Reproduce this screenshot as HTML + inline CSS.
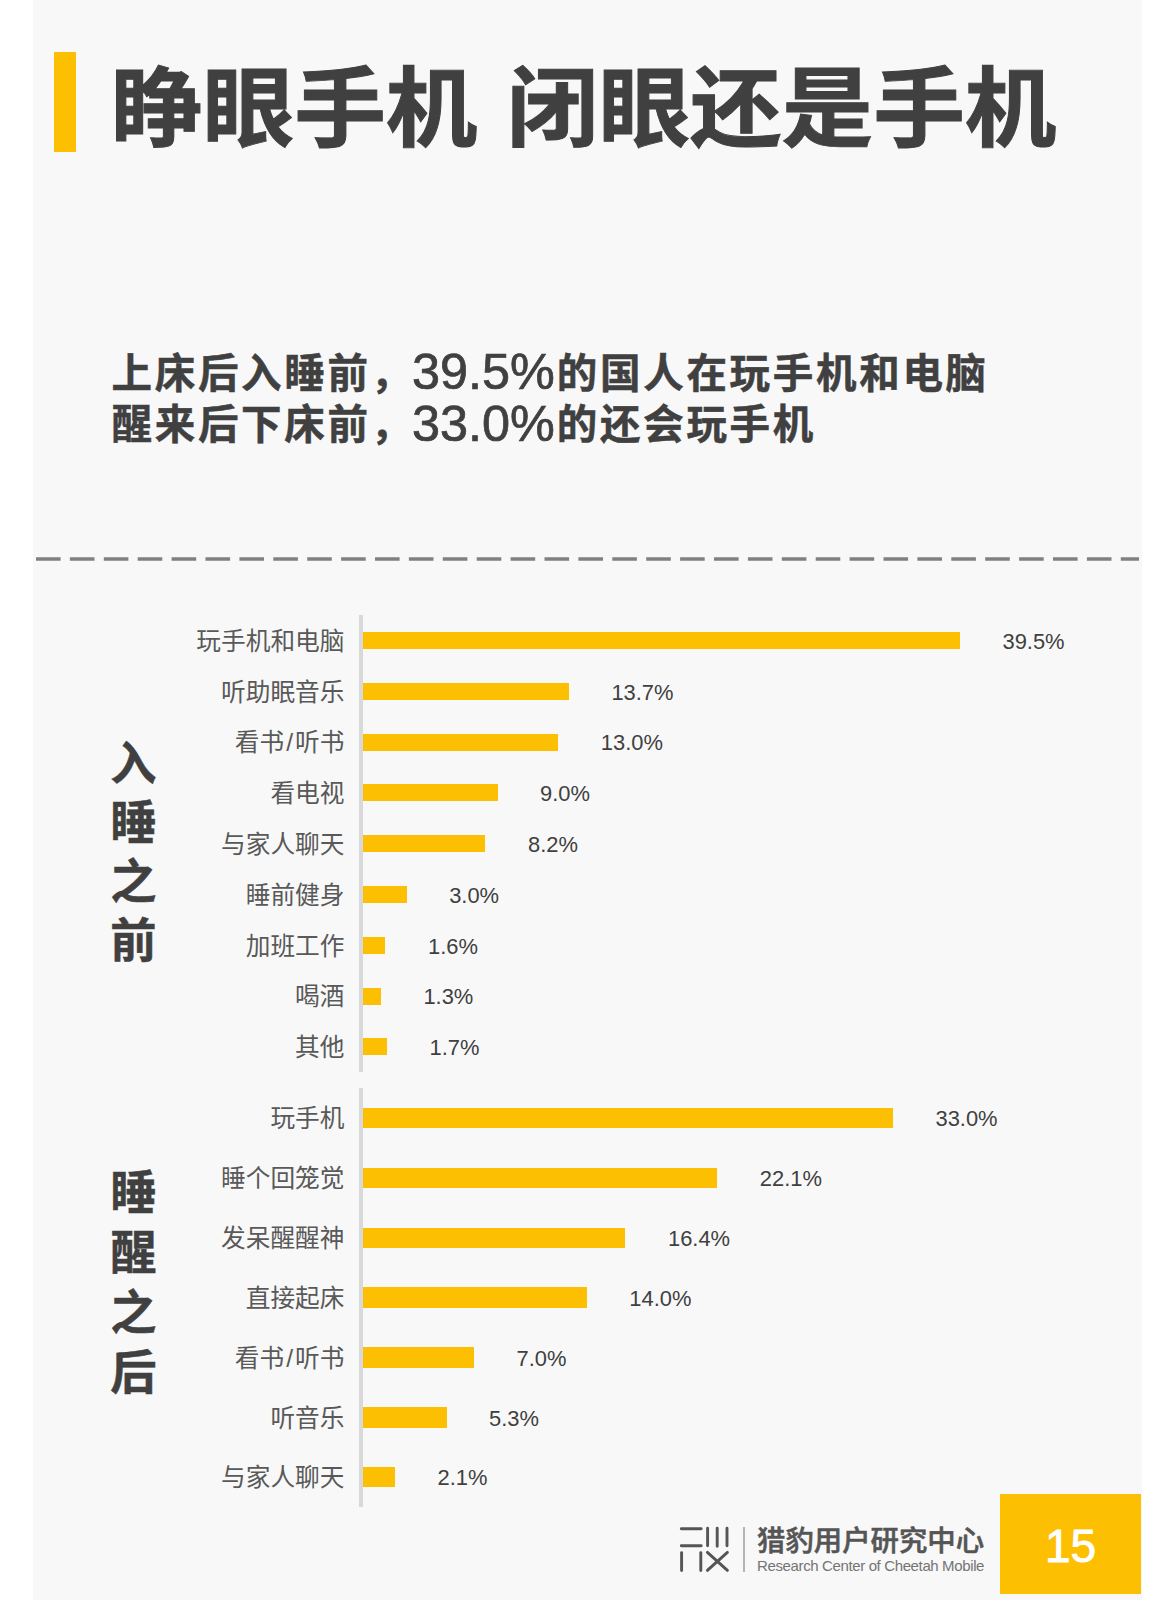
<!DOCTYPE html>
<html lang="zh-CN">
<head>
<meta charset="utf-8">
<title>睁眼手机 闭眼还是手机</title>
<style>
html,body{margin:0;padding:0;background:#fff;}
body{width:1175px;height:1600px;position:relative;overflow:hidden;font-family:"Liberation Sans","Noto Sans CJK SC",sans-serif;color:#404040;}
.panel{position:absolute;left:33px;top:0;width:1108.5px;height:1600px;background:#f8f8f8;}
.abs{position:absolute;white-space:nowrap;}
.tbar{position:absolute;left:53.6px;top:51.8px;width:22.4px;height:100.2px;background:#fdbf02;}
.title{position:absolute;left:111px;top:44.8px;font-size:91.6px;line-height:130px;font-weight:700;white-space:nowrap;letter-spacing:0;word-spacing:4px;color:#404040;-webkit-text-stroke:1px #404040;transform:scaleY(0.953);transform-origin:0 50%;}
.sub{position:absolute;left:111.5px;font-size:40.5px;line-height:60px;height:60px;letter-spacing:2.7px;font-weight:700;white-space:nowrap;color:#404040;-webkit-text-stroke:0.5px #404040;}
.sub b{font-weight:400;font-size:50.4px;letter-spacing:0;margin:0 2px 0 -2px;position:relative;top:1.7px;-webkit-text-stroke:0.7px #404040;}
.axis{z-index:2;position:absolute;left:358.6px;width:4.3px;background:#d9d9d9;}
.bar{position:absolute;left:361.2px;background:#fdbf02;}
.cat{position:absolute;right:830.5px;height:40px;line-height:40px;font-size:24.7px;font-weight:400;color:#595959;white-space:nowrap;}
.cat i{font-style:normal;margin:0 2px;}
.val{position:absolute;height:40px;line-height:40px;font-size:21.9px;color:#404040;white-space:nowrap;}
.side{position:absolute;left:108.3px;width:50px;text-align:center;font-size:46.2px;font-weight:700;color:#404040;-webkit-text-stroke:0.5px #404040;}
.side span{display:block;}
.org{position:absolute;left:757px;top:1521.3px;font-size:28.4px;line-height:40px;font-weight:500;color:#555;white-space:nowrap;-webkit-text-stroke:0.55px #555;}
.orgen{position:absolute;left:757px;top:1556.4px;font-size:15px;line-height:20px;color:#747474;white-space:nowrap;letter-spacing:-0.37px;}
.sep{position:absolute;left:743.4px;top:1527px;width:1.2px;height:45px;background:#b4b4b4;}
.pg{position:absolute;left:999.7px;top:1493.7px;width:141.8px;height:100.3px;background:#fdbf02;color:#fff;font-size:46.2px;line-height:100px;text-align:center;-webkit-text-stroke:0.85px #fff;}
.pg span{position:relative;top:2px;}
</style>
</head>
<body>
<div class="panel"></div>
<div class="tbar"></div>
<div class="title">睁眼手机 闭眼还是手机</div>
<div class="sub" style="top:340.5px">上床后入睡前，<b>39.5%</b>的国人在玩手机和电脑</div>
<div class="sub" style="top:392px">醒来后下床前，<b>33.0%</b>的还会玩手机</div>
<svg class="abs" style="left:0;top:550px" width="1175" height="20" viewBox="0 550 1175 20"><line x1="36" y1="559" x2="1139" y2="559" stroke="#808080" stroke-width="3.3" stroke-dasharray="24.6 9.3"/></svg>
<div class="axis" style="top:615.1px;height:457.1px"></div>
<div class="cat" style="top:621.79px">玩手机和电脑</div>
<div class="bar" style="top:631.99px;height:17px;width:598.8px"></div>
<div class="val" style="top:621.79px;left:1002.5px">39.5%</div>
<div class="cat" style="top:672.58px">听助眠音乐</div>
<div class="bar" style="top:682.78px;height:17px;width:207.7px"></div>
<div class="val" style="top:672.58px;left:611.4px">13.7%</div>
<div class="cat" style="top:723.37px">看书<i>/</i>听书</div>
<div class="bar" style="top:733.57px;height:17px;width:197.1px"></div>
<div class="val" style="top:723.37px;left:600.8px">13.0%</div>
<div class="cat" style="top:774.16px">看电视</div>
<div class="bar" style="top:784.36px;height:17px;width:136.4px"></div>
<div class="val" style="top:774.16px;left:540.1px">9.0%</div>
<div class="cat" style="top:824.95px">与家人聊天</div>
<div class="bar" style="top:835.15px;height:17px;width:124.3px"></div>
<div class="val" style="top:824.95px;left:528.0px">8.2%</div>
<div class="cat" style="top:875.74px">睡前健身</div>
<div class="bar" style="top:885.94px;height:17px;width:45.5px"></div>
<div class="val" style="top:875.74px;left:449.2px">3.0%</div>
<div class="cat" style="top:926.53px">加班工作</div>
<div class="bar" style="top:936.73px;height:17px;width:24.3px"></div>
<div class="val" style="top:926.53px;left:428.0px">1.6%</div>
<div class="cat" style="top:977.32px">喝酒</div>
<div class="bar" style="top:987.52px;height:17px;width:19.7px"></div>
<div class="val" style="top:977.32px;left:423.4px">1.3%</div>
<div class="cat" style="top:1028.11px">其他</div>
<div class="bar" style="top:1038.31px;height:17px;width:25.8px"></div>
<div class="val" style="top:1028.11px;left:429.5px">1.7%</div>
<div class="axis" style="top:1088.2px;height:418.9px"></div>
<div class="cat" style="top:1099.42px">玩手机</div>
<div class="bar" style="top:1107.82px;height:20.6px;width:531.8px"></div>
<div class="val" style="top:1099.42px;left:935.5px">33.0%</div>
<div class="cat" style="top:1159.26px">睡个回笼觉</div>
<div class="bar" style="top:1167.66px;height:20.6px;width:356.1px"></div>
<div class="val" style="top:1159.26px;left:759.8px">22.1%</div>
<div class="cat" style="top:1219.11px">发呆醒醒神</div>
<div class="bar" style="top:1227.51px;height:20.6px;width:264.3px"></div>
<div class="val" style="top:1219.11px;left:668.0px">16.4%</div>
<div class="cat" style="top:1278.95px">直接起床</div>
<div class="bar" style="top:1287.35px;height:20.6px;width:225.6px"></div>
<div class="val" style="top:1278.95px;left:629.3px">14.0%</div>
<div class="cat" style="top:1338.79px">看书<i>/</i>听书</div>
<div class="bar" style="top:1347.19px;height:20.6px;width:112.8px"></div>
<div class="val" style="top:1338.79px;left:516.5px">7.0%</div>
<div class="cat" style="top:1398.64px">听音乐</div>
<div class="bar" style="top:1407.04px;height:20.6px;width:85.4px"></div>
<div class="val" style="top:1398.64px;left:489.1px">5.3%</div>
<div class="cat" style="top:1458.48px">与家人聊天</div>
<div class="bar" style="top:1466.88px;height:20.6px;width:33.8px"></div>
<div class="val" style="top:1458.48px;left:437.5px">2.1%</div>
<div class="side" style="top:735px;line-height:59px"><span>入</span><span>睡</span><span>之</span><span>前</span></div>
<div class="side" style="top:1163px;line-height:60px"><span>睡</span><span>醒</span><span>之</span><span>后</span></div>
<svg class="abs" style="left:676px;top:1520px" width="60" height="58" viewBox="676 1520 60 58" fill="none" stroke="#555" stroke-width="2.9" stroke-linecap="round">
<path d="M681.3 1528.7H701.2M681.3 1545.8H701.2"/>
<path d="M707.6 1528.2V1545.8M717.2 1528.2V1546.2M727 1528.2V1545.8"/>
<path d="M681.6 1552.6V1570.6M700.8 1552.6V1570.6"/>
<path d="M707.4 1552.4L727.4 1570.4M727.4 1552.4L707.4 1570.4"/>
</svg>
<div class="sep"></div>
<div class="org">猎豹用户研究中心</div>
<div class="orgen">Research Center of Cheetah Mobile</div>
<div class="pg"><span>15</span></div>
</body>
</html>
